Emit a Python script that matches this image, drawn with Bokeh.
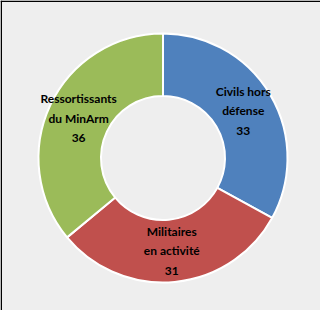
import math
from bokeh.plotting import figure
from bokeh.models import Range1d, ColumnDataSource, Span
from bokeh.core.properties import value
from bokeh.embed import file_html
from bokeh.resources import INLINE

categories = ["Civils hors\ndéfense", "Militaires\nen activité", "Ressortissants\ndu MinArm"]
values = [33, 31, 36]
colors = ["#4F81BD", "#C0504D", "#9BBB59"]

W, H = 320, 310
cx, cy = 162.5, 152.5
r_out, r_in = 124.5, 62.0

total = float(sum(values))
starts, ends, lx, ly, labels = [], [], [], [], []
acc = 0.0
for c, v in zip(categories, values):
    a0 = math.pi / 2 - 2 * math.pi * acc / total
    a1 = math.pi / 2 - 2 * math.pi * (acc + v) / total
    starts.append(a0)
    ends.append(a1)
    mid = (a0 + a1) / 2
    rm = (r_in + r_out) / 2
    lx.append(cx + rm * math.cos(mid))
    ly.append(cy + rm * math.sin(mid))
    labels.append(f"{c}\n{v}")
    acc += v

src = ColumnDataSource(dict(start=starts, end=ends, color=colors,
                            lx=lx, ly=ly, label=labels))

p = figure(width=W, height=H, output_backend="svg", toolbar_location=None,
           x_range=Range1d(0, W), y_range=Range1d(0, H), min_border=0)
p.axis.visible = False
p.grid.visible = False
p.background_fill_color = "#EEEEEE"
p.border_fill_color = "#FFFFFF"
p.outline_line_color = None

p.add_layout(Span(location=0.75, dimension="height", line_color="#000000", line_width=1.5))
p.add_layout(Span(location=H - 0.75, dimension="width", line_color="#000000", line_width=1.5))

p.annular_wedge(x=cx, y=cy, inner_radius=r_in, outer_radius=r_out,
                start_angle="start", end_angle="end", direction="clock",
                fill_color="color", line_color="white", line_width=2, source=src)

p.text(x="lx", y="ly", text="label", source=src,
       text_font=value("Lato"), text_font_style="bold",
       text_font_size="12px", text_align="center", text_baseline="middle",
       text_line_height=1.3, text_color="#000000")

open("out.html", "w").write(file_html(p, INLINE))
